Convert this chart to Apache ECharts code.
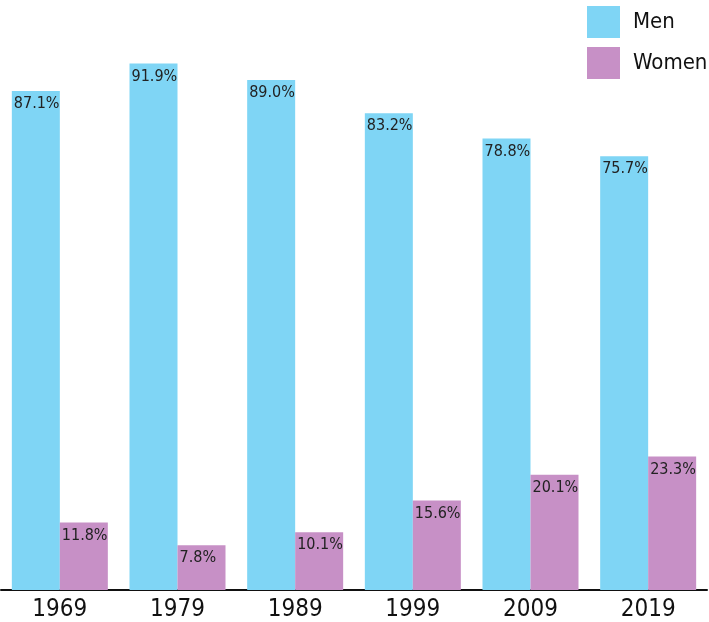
<!DOCTYPE html>
<html><head><meta charset="utf-8">
<script src="https://cdn.jsdelivr.net/npm/echarts@6/dist/echarts.min.js"></script>
<style>html,body{margin:0;padding:0;background:#fff}#c{width:709px;height:622px}</style>
</head><body><div id="c"></div>
<script>
var years = ['1969','1979','1989','1999','2009','2019'];
var men = [87.1, 91.9, 89.0, 83.2, 78.8, 75.7];
var women = [11.8, 7.8, 10.1, 15.6, 20.1, 23.3];
var FONT = '"DejaVu Sans Condensed","Liberation Sans Narrow","Roboto",sans-serif';
var chart = echarts.init(document.getElementById('c'));
function lbl(){return {show:true,position:'insideTopLeft',distance:2,offset:[0,3],color:'#222',fontFamily:FONT,fontSize:16,formatter:function(p){return p.value.toFixed(1)+'%';}};}
chart.setOption({
  animation:false,
  grid:{left:1,right:2,top:17,bottom:31,containLabel:false},
  legend:{orient:'vertical',left:582,top:1,itemWidth:33,itemHeight:32,itemGap:9,icon:'rect',
    textStyle:{fontFamily:FONT,fontSize:22,color:'#111',padding:[0,0,0,8]},data:['Men','Women']},
  xAxis:{type:'category',data:years,axisLine:{lineStyle:{color:'#111',width:2}},axisTick:{show:false},
    axisLabel:{fontFamily:FONT,fontSize:24,color:'#111',margin:8}},
  yAxis:{type:'value',min:0,max:100,show:false,splitLine:{show:false}},
  series:[
    {name:'Men',type:'bar',data:men,barWidth:48,barGap:'0%',itemStyle:{color:'#7fd5f5'},label:lbl()},
    {name:'Women',type:'bar',data:women,barWidth:48,barGap:'0%',itemStyle:{color:'#c790c6'},label:lbl()}
  ]
});
</script></body></html>
